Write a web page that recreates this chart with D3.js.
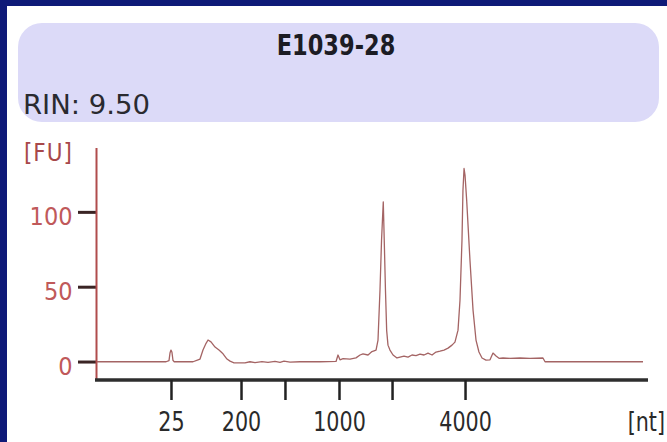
<!DOCTYPE html>
<html>
<head>
<meta charset="utf-8">
<script src="https://cdn.jsdelivr.net/npm/d3@7/dist/d3.min.js"></script>
<style>
  html, body { margin: 0; padding: 0; background: #0e1a78; }
  svg { display: block; }
  text { font-family: "DejaVu Sans Condensed", "DejaVu Sans", sans-serif; }
</style>
</head>
<body>
<div id="chart"></div>
<script>
/* ═══ Electropherogram — E1039-28 ═══ */

const sampleName = 'E1039-28';
const rinLabel = 'RIN: 9.50';

// migration time (s) and fluorescence (FU)
const traceTime = [
  19.00, 25.30, 25.57, 25.66, 25.75, 25.84, 25.93, 26.03, 27.76, 28.22,
  28.40, 28.67, 28.95, 29.13, 29.40, 29.77, 30.13, 30.50, 30.86, 31.14,
  31.50, 32.50, 32.96, 33.42, 34.05, 34.60, 35.24, 35.70, 36.06, 36.61,
  37.52, 39.35, 40.81, 40.99, 41.17, 41.45, 42.08, 42.63, 43.00, 43.27,
  43.73, 44.09, 44.46, 44.64, 44.82, 44.96, 45.12, 45.23, 45.32, 45.43,
  45.55, 45.73, 46.01, 46.37, 46.65, 47.01, 47.38, 47.74, 48.11, 48.47,
  48.84, 49.20, 49.57, 49.93, 50.30, 50.66, 51.03, 51.39, 51.66, 51.94,
  52.12, 52.30, 52.39, 52.49, 52.58, 52.73, 53.03, 53.31, 53.58, 53.85,
  54.13, 54.49, 54.86, 55.13, 55.41, 55.68, 56.04, 56.68, 57.60, 58.51,
  59.69, 59.88, 64.89, 68.82
];
const traceFU = [
  0.2, 0.2, 1.0, 6.0, 8.0, 6.5, 1.2, 0.2, 0.2, 1.5,
  2.0, 8.0, 12.5, 14.7, 13.5, 10.0, 8.0, 5.5, 2.0, 0.6,
  -0.5, -0.5, 0.2, -0.4, 0.3, -0.2, 0.5, -0.2, 0.6, 0.0,
  0.2, 0.2, 0.4, 4.7, 1.5, 2.3, 2.0, 2.8, 4.7, 5.5,
  4.7, 7.0, 8.0, 14.7, 48.0, 81.0, 107.0, 75.0, 48.0, 21.0,
  11.3, 8.0, 4.7, 2.7, 3.3, 4.0, 3.3, 4.7, 4.3, 5.3,
  4.7, 6.0, 4.7, 6.7, 7.3, 8.0, 9.3, 11.3, 13.3, 21.3,
  41.3, 81.0, 114.7, 129.3, 124.7, 108.0, 68.0, 34.7, 14.7, 6.7,
  2.7, 1.3, 1.5, 6.0, 4.0, 2.5, 2.7, 2.5, 2.7, 2.5,
  2.7, 0.2, 0.2, 0.2
];

// ladder positions (s) with their size labels in nt
const ladderTime = [25.75, 32.14, 36.15, 41.08, 45.92, 52.58];
const ladderLabel = ['25', '200', '', '1000', '', '4000'];

const fuTicks = [0, 50, 100];

const W = 667, H = 442;
const FONT = '"DejaVu Sans Condensed", "DejaVu Sans", sans-serif';

const svg = d3.select('#chart').append('svg')
  .attr('width', W).attr('height', H);

// white panel on the navy frame
svg.append('rect').attr('x', 7).attr('y', 6).attr('width', W - 7).attr('height', H - 6)
  .attr('fill', '#ffffff');

// header box
svg.append('rect').attr('x', 18).attr('y', 23).attr('width', 641).attr('height', 99)
  .attr('rx', 24).attr('ry', 24).attr('fill', '#dcdaf8');

// text in the source image is a bit stretched vertically
function stretched(x, y, s) { return `translate(${x},${y}) scale(1,${s})`; }

svg.append('text').attr('transform', stretched(336, 55, 1.12))
  .attr('text-anchor', 'middle').attr('font-size', '25px').attr('font-weight', '700')
  .attr('fill', '#1c1c24').text(sampleName);

svg.append('text').attr('transform', stretched(23, 114, 1.0))
  .attr('font-size', '27px').attr('textLength', 127).attr('lengthAdjust', 'spacingAndGlyphs')
  .attr('fill', '#2a2a30').text(rinLabel);

// ── scales ──
const x = d3.scaleLinear().domain([19, 69]).range([97, 645]);
const y = d3.scaleLinear().domain([-12, 143]).range([380, 148]);

// ── y axis ──
const yAxis = svg.append('g').attr('transform', `translate(${x(19) - 0.5},0)`)
  .call(d3.axisLeft(y).tickValues(fuTicks).tickSize(0).tickPadding(24));
yAxis.select('.domain').remove();
yAxis.selectAll('.tick text')
  .attr('font-size', '25px').attr('fill', '#c0595a').attr('font-family', FONT)
  .attr('dy', null).attr('y', 12);

// tick marks on the left of the axis
svg.append('g').attr('class', 'fu-ticks')
  .selectAll('rect').data(fuTicks).join('rect')
  .attr('x', x(19) - 19).attr('width', 19)
  .attr('y', d => y(d) - 1.5).attr('height', 3)
  .attr('fill', '#3a2424');

svg.append('rect')
  .attr('x', x(19) - 1.5).attr('width', 2)
  .attr('y', y(143)).attr('height', y(-12) - y(143))
  .attr('fill', '#b04c4c');

svg.append('text').attr('transform', stretched(73, 161, 1.05))
  .attr('text-anchor', 'end').attr('font-size', '24px').attr('letter-spacing', '1px')
  .attr('fill', '#a8484a').text('[FU]');

// ── x axis ──
const xAxis = svg.append('g').attr('transform', `translate(0,${y(-12)})`)
  .call(d3.axisBottom(x).tickValues(ladderTime)
    .tickFormat((d, i) => ladderLabel[i]).tickSize(20).tickSizeOuter(0));
xAxis.select('.domain').attr('stroke', '#2e2e2e').attr('stroke-width', 3.5)
  .attr('d', `M${x(19) - 2},0H${x(69) + 3}`);
xAxis.selectAll('.tick line').attr('stroke', '#222').attr('stroke-width', 2.5);
xAxis.selectAll('.tick text')
  .attr('font-size', '23px').attr('fill', '#2a2a2a').attr('font-family', FONT)
  .attr('dy', null).attr('y', 51 / 1.15).attr('transform', 'scale(1,1.15)');

svg.append('text').attr('transform', stretched(665, 431, 1.15))
  .attr('text-anchor', 'end').attr('font-size', '23px').attr('fill', '#2a2a2a').text('[nt]');

// ── trace ──
const pts = traceTime.map((t, i) => [t, traceFU[i]]);
svg.append('path').datum(pts)
  .attr('fill', 'none').attr('stroke', '#a46464').attr('stroke-width', 1.3)
  .attr('stroke-linejoin', 'round')
  .attr('d', d3.line().x(d => x(d[0])).y(d => y(d[1])));
</script>
</body>
</html>
